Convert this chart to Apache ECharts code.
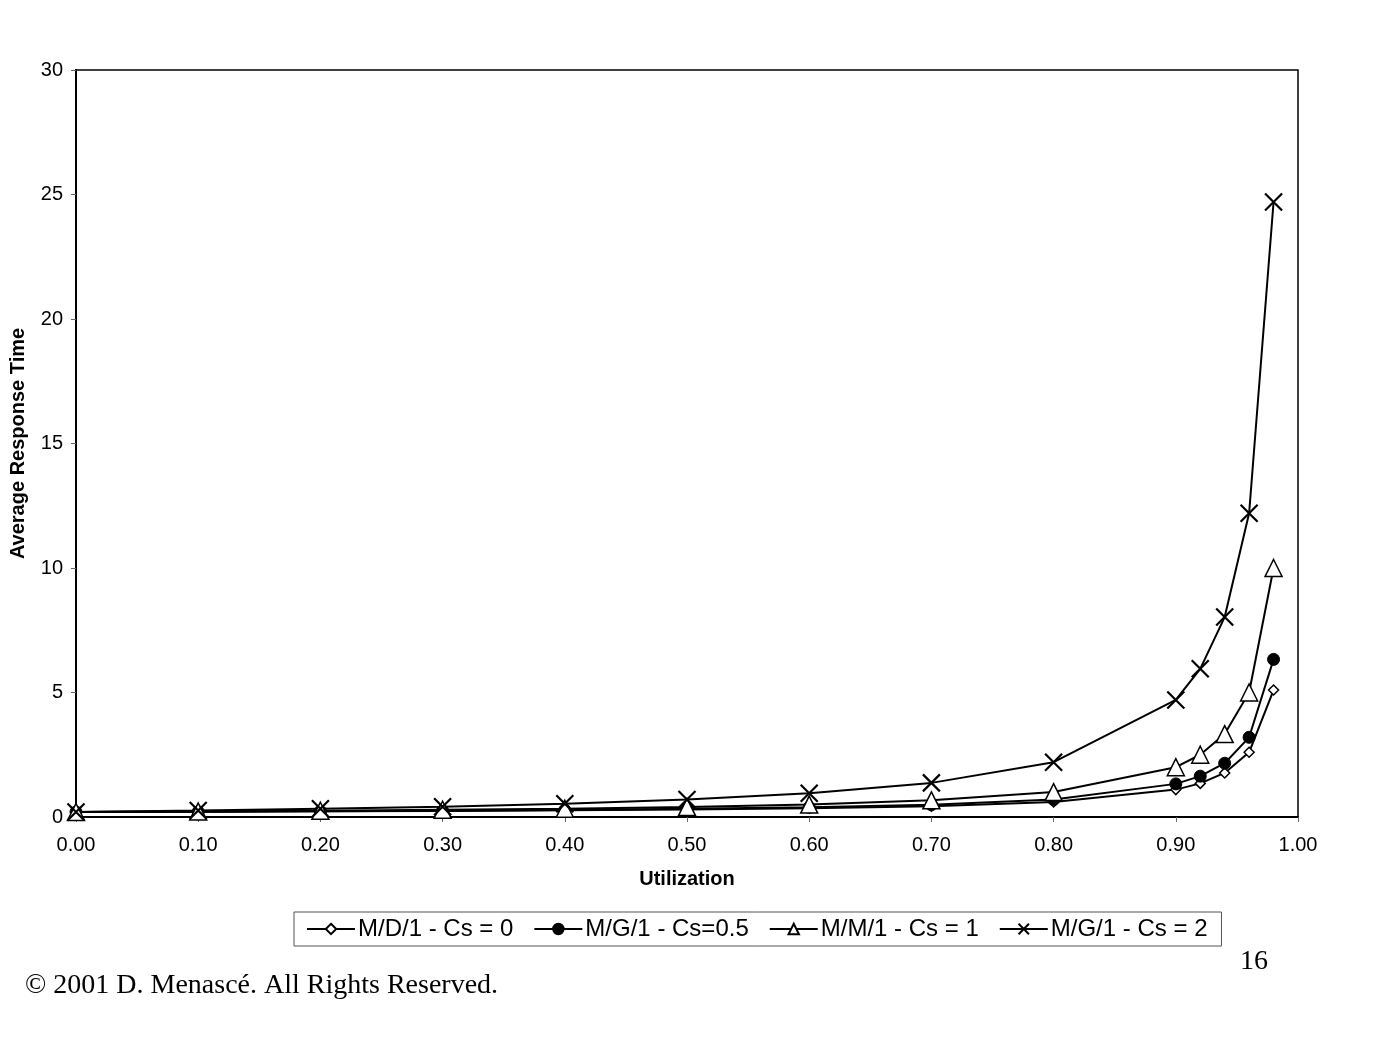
<!DOCTYPE html>
<html>
<head>
<meta charset="utf-8">
<script src="https://cdn.jsdelivr.net/npm/echarts@6/dist/echarts.min.js"></script>
<style>
html,body{margin:0;padding:0;background:#fff;}
#chart{width:1382px;height:1052px;}
</style>
</head>
<body>
<div id="chart"></div>
<script>
const utilization = [0.00, 0.10, 0.20, 0.30, 0.40, 0.50, 0.60, 0.70, 0.80, 0.90, 0.92, 0.94, 0.96, 0.98];
const md1 = [0.20, 0.21, 0.23, 0.24, 0.27, 0.30, 0.35, 0.43, 0.60, 1.10, 1.35, 1.77, 2.60, 5.10];
const mg1Half = [0.20, 0.21, 0.23, 0.25, 0.28, 0.33, 0.39, 0.49, 0.70, 1.33, 1.64, 2.16, 3.20, 6.33];
const mm1 = [0.20, 0.22, 0.25, 0.29, 0.33, 0.40, 0.50, 0.67, 1.00, 2.00, 2.50, 3.33, 5.00, 10.00];
const mg1Two = [0.20, 0.26, 0.33, 0.41, 0.53, 0.70, 0.95, 1.37, 2.20, 4.70, 5.95, 8.03, 12.20, 24.70];
const seriesNames = ['M/D/1 - Cs = 0', 'M/G/1 - Cs=0.5', 'M/M/1 - Cs = 1', 'M/G/1 - Cs = 2'];

const pair = arr => utilization.map((u, i) => [u, arr[i]]);
const FONT = 'Liberation Sans, Arial, sans-serif';
const crossPath = 'path://M0,0L10,10M10,0L0,10';

function mk(name, data, symbol, size, fill, bw) {
  return {
    name, type: 'line', data: pair(data),
    symbol, symbolSize: size, showSymbol: true,
    lineStyle: {color: '#000', width: 2},
    itemStyle: {color: fill, borderColor: '#000', borderWidth: bw},
    emphasis: {disabled: true},
    animation: false
  };
}

const chart = echarts.init(document.getElementById('chart'), null, {renderer: 'canvas'});
chart.setOption({
  backgroundColor: '#fff',
  animation: false,
  grid: {left: 75, right: 84, top: 70, bottom: 235, show: true, borderColor: '#000', borderWidth: 1.5, backgroundColor: '#fff'},
  xAxis: {
    type: 'value', min: 0, max: 1, interval: 0.1,
    name: 'Utilization', nameLocation: 'middle', nameGap: 52,
    nameTextStyle: {fontFamily: FONT, fontSize: 20, fontWeight: 'bold', color: '#000'},
    axisLine: {show: true, lineStyle: {color: '#000', width: 2}},
    axisTick: {show: true, length: 5, lineStyle: {color: '#666', width: 1}},
    axisLabel: {fontFamily: FONT, fontSize: 20, color: '#000', margin: 18, formatter: v => v.toFixed(2)},
    splitLine: {show: false}
  },
  yAxis: {
    type: 'value', min: 0, max: 30, interval: 5,
    name: 'Average Response Time', nameLocation: 'middle', nameGap: 48, nameRotate: 90,
    nameTextStyle: {fontFamily: FONT, fontSize: 20, fontWeight: 'bold', color: '#000'},
    axisLine: {show: true, lineStyle: {color: '#000', width: 2}},
    axisTick: {show: true, length: 5, lineStyle: {color: '#666', width: 1}},
    axisLabel: {fontFamily: FONT, fontSize: 20, color: '#000', margin: 13},
    splitLine: {show: false}
  },
  legend: {
    left: 294, top: 912,
    data: seriesNames,
    itemWidth: 48, itemHeight: 13, itemGap: 20,
    padding: [5, 14, 5, 12],
    borderColor: '#555', borderWidth: 1,
    textStyle: {fontFamily: FONT, fontSize: 24, color: '#000', padding: [0, 0, 0, -2]}
  },
  graphic: [
    {type: 'text', left: 25, top: 972, style: {text: '© 2001 D. Menascé. All Rights Reserved.', font: '28px "Liberation Serif", "Times New Roman", serif', fill: '#000'}},
    {type: 'text', left: 1240, top: 948, style: {text: '16', font: '28px "Liberation Serif", "Times New Roman", serif', fill: '#000'}}
  ],
  series: [
    mk(seriesNames[0], md1, 'diamond', 10, '#fff', 1.5),
    mk(seriesNames[1], mg1Half, 'circle', 12, '#000', 1),
    mk(seriesNames[2], mm1, 'triangle', 17, '#fff', 1.5),
    mk(seriesNames[3], mg1Two, crossPath, 17, '#000', 2.2)
  ]
});
</script>
</body>
</html>
